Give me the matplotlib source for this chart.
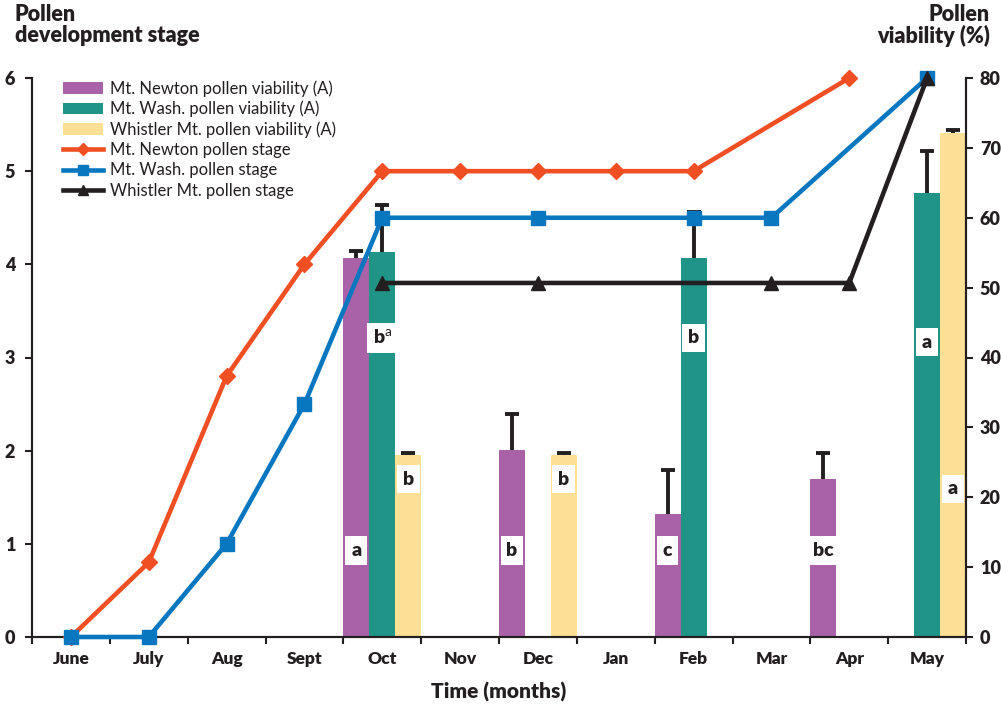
import numpy as np
import matplotlib
matplotlib.use("Agg")
import matplotlib.pyplot as plt
from matplotlib.patches import Patch
from matplotlib.lines import Line2D

plt.rcParams['font.family'] = ['Lato', 'DejaVu Sans']
plt.rcParams['mathtext.fontset'] = 'custom'
plt.rcParams['mathtext.rm'] = 'Lato'
plt.rcParams['mathtext.bf'] = 'Lato:heavy'

BOLD = 'heavy'

nan = np.nan
months = ["June", "July", "Aug", "Sept", "Oct", "Nov", "Dec", "Jan", "Feb", "Mar", "Apr", "May"]

# Pollen viability (%) bars and upper error
newton_viab = [nan, nan, nan, nan, 54.2, nan, 26.7, nan, 17.6, nan, 22.6, nan]
newton_err = [nan, nan, nan, nan, 1.0, nan, 5.2, nan, 6.3, nan, 3.7, nan]
wash_viab = [nan, nan, nan, nan, 55.1, nan, nan, nan, 54.2, nan, nan, 63.6]
wash_err = [nan, nan, nan, nan, 6.7, nan, nan, nan, 6.6, nan, nan, 5.9]
whistler_viab = [nan, nan, nan, nan, 26.0, nan, 26.0, nan, nan, nan, nan, 72.1]
whistler_err = [nan, nan, nan, nan, 0.4, nan, 0.4, nan, nan, nan, nan, 0.5]

# significance letters
newton_letters = [None, None, None, None, "a", None, "b", None, "c", None, "bc", None]
wash_letters = [None, None, None, None, r"$\mathbf{b}^{\mathrm{a}}$", None, None, None, "b", None, None, "a"]
whistler_letters = [None, None, None, None, "b", None, "b", None, None, None, None, "a"]
newton_letter_y = [12.4] * 12
wash_letter_y = [42.8] * 11 + [42.2]
whistler_letter_y = [22.6] * 11 + [21.2]

# Pollen development stage lines
newton_stage = [0, 0.8, 2.8, 4.0, 5.0, 5.0, 5.0, 5.0, 5.0, nan, 6.0, nan]
wash_stage = [0, 0, 1.0, 2.5, 4.5, nan, 4.5, nan, 4.5, 4.5, nan, 6.0]
whistler_stage = [nan, nan, nan, nan, 3.8, nan, 3.8, nan, nan, 3.8, 3.8, 6.0]

c_purple = "#A962A8"
c_teal = "#1F9487"
c_yellow = "#FDE096"
c_orange = "#F04E23"
c_blue = "#0877C0"
c_black = "#231F20"

fig = plt.figure(figsize=(10.01, 7.06), dpi=100)
axv = fig.add_axes([32 / 1001, 69 / 706, 934 / 1001, 559 / 706])
axs = axv.twinx()
axv.yaxis.tick_right()
axs.yaxis.tick_left()

x = np.arange(len(months))
w = 1 / 3

series = [
    (newton_viab, newton_err, newton_letters, newton_letter_y, c_purple, -w),
    (wash_viab, wash_err, wash_letters, wash_letter_y, c_teal, 0.0),
    (whistler_viab, whistler_err, whistler_letters, whistler_letter_y, c_yellow, w),
]
for vals, errs, letters, ly, col, off in series:
    vals = np.array(vals, dtype=float)
    errs = np.array(errs, dtype=float)
    m = ~np.isnan(vals)
    axv.bar(x[m] + off, vals[m], w, color=col, linewidth=0, zorder=2)
    eb = axv.errorbar(x[m] + off, vals[m], yerr=[np.zeros(m.sum()), errs[m]], fmt='none',
                      ecolor=c_black, elinewidth=2.8, capsize=5, capthick=2.8, zorder=3)
    caps = eb[1]
    if len(caps) > 1:
        caps[0].set_visible(False)
    for i, lab in enumerate(letters):
        if lab:
            axv.text(x[i] + off, ly[i], lab, ha='center', va='center', fontsize=14,
                     fontweight=BOLD, color=c_black, zorder=4,
                     bbox=dict(boxstyle='square,pad=0.3', facecolor='white', edgecolor='none'))

lines = [
    (newton_stage, c_orange, 'D', 8),
    (wash_stage, c_blue, 's', 9.5),
    (whistler_stage, c_black, '^', 10),
]
for vals, col, mk, ms in lines:
    vals = np.array(vals, dtype=float)
    m = ~np.isnan(vals)
    axs.plot(x[m], vals[m], color=col, lw=3.3, marker=mk, markersize=ms,
             clip_on=False, zorder=5)

axs.set_ylim(0, 6)
axv.set_ylim(0, 80)
axv.set_xlim(-0.5, 11.5)

axs.set_yticks(range(0, 7))
axv.set_yticks(range(0, 81, 10))
for lab in axs.get_yticklabels() + axv.get_yticklabels():
    lab.set_fontweight(BOLD)
axs.tick_params(axis='y', labelsize=13, length=5, width=1.5, color=c_black, pad=7, labelcolor=c_black)
axv.tick_params(axis='y', labelsize=13, length=5, width=1.5, color=c_black, pad=5, labelcolor=c_black)

axv.set_xticks(np.arange(-0.5, 12, 1))
axv.set_xticklabels([])
axv.set_xticks(x, minor=True)
axv.set_xticklabels(months, minor=True, fontweight=BOLD, fontsize=12.5, color=c_black)
axv.tick_params(axis='x', which='major', length=5, width=1.5, color=c_black)
axv.tick_params(axis='x', which='minor', length=0, pad=10)

for ax in (axv, axs):
    ax.spines['top'].set_visible(False)
    for s in ('left', 'right', 'bottom'):
        ax.spines[s].set_color(c_black)
        ax.spines[s].set_linewidth(1.5)

axv.set_xlabel("Time (months)", fontsize=15, fontweight=BOLD, color=c_black, labelpad=11)

fig.text(15 / 1001, 1 - 4 / 706, "Pollen\ndevelopment stage", ha='left', va='top',
         fontsize=15.5, fontweight=BOLD, color=c_black, linespacing=1.0)
fig.text(990 / 1001, 1 - 4 / 706, "Pollen\nviability (%)", ha='right', va='top',
         fontsize=15.5, fontweight=BOLD, color=c_black, linespacing=1.0, multialignment='right')

handles = [
    Patch(facecolor=c_purple, label="Mt. Newton pollen viability (A)"),
    Patch(facecolor=c_teal, label="Mt. Wash. pollen viability (A)"),
    Patch(facecolor=c_yellow, label="Whistler Mt. pollen viability (A)"),
    Line2D([], [], color=c_orange, lw=3.3, marker='D', markersize=6, label="Mt. Newton pollen stage"),
    Line2D([], [], color=c_blue, lw=3.3, marker='s', markersize=7, label="Mt. Wash. pollen stage"),
    Line2D([], [], color=c_black, lw=3.3, marker='^', markersize=7, label="Whistler Mt. pollen stage"),
]
leg = axs.legend(handles=handles, loc='upper left', bbox_to_anchor=(63 / 1001, 1 - 80 / 706),
                 bbox_transform=fig.transFigure, frameon=False, fontsize=12,
                 handlelength=2.4, handletextpad=0.4, labelspacing=0.25, borderaxespad=0,
                 borderpad=0)
for t in leg.get_texts():
    t.set_color(c_black)

fig.savefig("out.png", dpi=100)
